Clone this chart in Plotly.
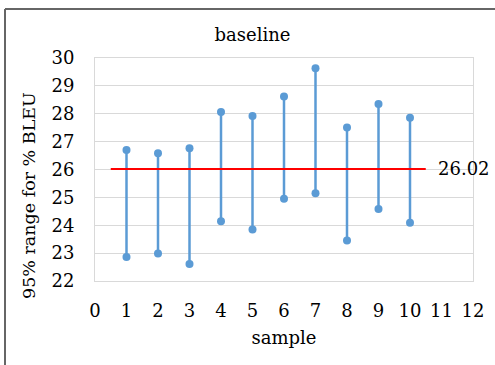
import plotly.graph_objects as go

samples = [1, 2, 3, 4, 5, 6, 7, 8, 9, 10]
upper = [26.70, 26.58, 26.76, 28.06, 27.92, 28.62, 29.63, 27.51, 28.35, 27.86]
lower = [22.86, 22.99, 22.61, 24.14, 23.85, 24.95, 25.15, 23.45, 24.58, 24.09]
baseline_mean = 26.02
mean_span = [0.5, 10.5]
x_ticks = list(range(0, 13))
y_ticks = list(range(22, 31))

FONT = "DejaVu Serif"
BLUE = "#5B9BD5"

fig = go.Figure()
for s, lo, hi in zip(samples, lower, upper):
    fig.add_trace(go.Scatter(
        x=[s, s], y=[lo, hi], mode="lines+markers",
        line=dict(color=BLUE, width=2.5),
        marker=dict(color=BLUE, size=8),
        showlegend=False, hoverinfo="x+y"))

fig.add_trace(go.Scatter(
    x=mean_span, y=[baseline_mean, baseline_mean], mode="lines",
    line=dict(color="#FF0000", width=2), showlegend=False))

fig.add_annotation(x=mean_span[1], y=baseline_mean, text=f"{baseline_mean:.2f}",
                   xanchor="left", yanchor="middle", xshift=10, showarrow=False,
                   font=dict(family=FONT, size=18, color="#000"))

W, H = 495, 365
L, R, T, B = 95, 22, 58, 84
pw, ph = W - L - R, H - T - B

# y-axis title as rotated annotation
fig.add_annotation(x=(29 - L) / pw, y=(H - B - 196) / ph, xref="paper", yref="paper",
                   text="95% range for % BLEU", textangle=-90, showarrow=False,
                   xanchor="center", yanchor="middle",
                   font=dict(family=FONT, size=17.5, color="#000"))

# outer frame (top and left edges)
fx = (5 - L) / pw
fy = (H - B - 9) / ph
fig.add_shape(type="line", xref="paper", yref="paper", x0=fx, x1=(W - L) / pw, y0=fy, y1=fy,
              line=dict(color="#666666", width=2))
fig.add_shape(type="line", xref="paper", yref="paper", x0=fx, x1=fx, y0=fy, y1=-B / ph,
              line=dict(color="#666666", width=2))

fig.update_layout(
    width=W, height=H,
    margin=dict(l=L, r=R, t=T, b=B),
    paper_bgcolor="white", plot_bgcolor="white",
    font=dict(family=FONT, size=18, color="#000"),
    title=dict(text="baseline", x=0.51, xanchor="center", y=1 - 35 / H, yanchor="middle",
               font=dict(family=FONT, size=18, color="#000")),
    xaxis=dict(range=[0, 12], tickvals=x_ticks, showgrid=False, zeroline=False,
               showline=True, mirror=True, linecolor="#d9d9d9", linewidth=1,
               ticks="outside", ticklen=13, tickcolor="rgba(0,0,0,0)",
               tickfont=dict(family=FONT, size=18),
               title=dict(text="sample", standoff=11, font=dict(family=FONT, size=18))),
    yaxis=dict(range=[22, 30], tickvals=y_ticks, showgrid=True, gridcolor="#d9d9d9",
               zeroline=False, showline=True, mirror=True, linecolor="#d9d9d9", linewidth=1,
               ticks="outside", ticklen=16, tickcolor="rgba(0,0,0,0)",
               tickfont=dict(family=FONT, size=18)),
)

fig.write_html("out.html")
